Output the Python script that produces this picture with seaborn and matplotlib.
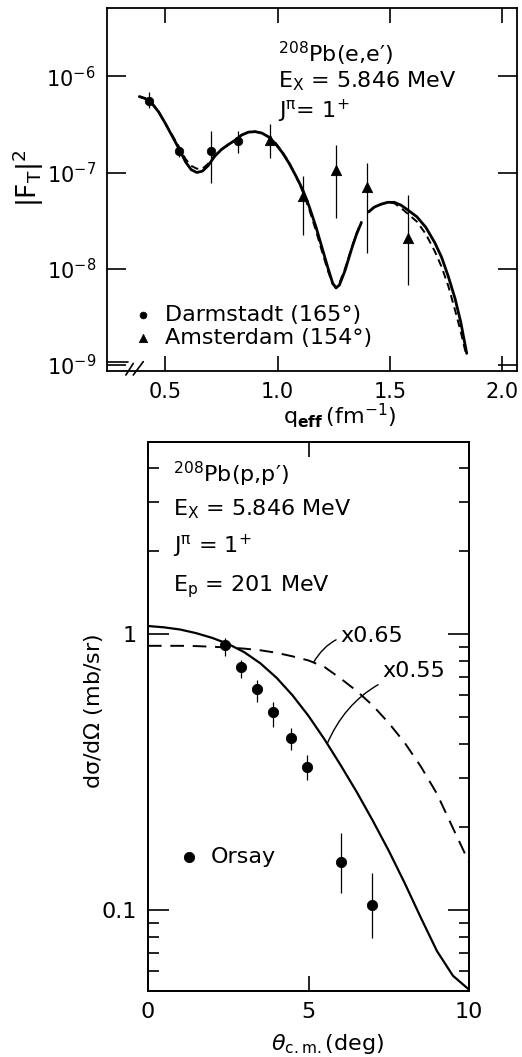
import numpy as np
import pandas as pd
import seaborn as sns
import matplotlib.pyplot as plt
from matplotlib.ticker import FixedLocator, NullFormatter, LogLocator, NullLocator, FormatStrFormatter

# ---- top panel: 208Pb(e,e') transverse form factor ----
darm_q = [0.429, 0.5625, 0.704, 0.823]
darm_f = [5.5e-7, 1.66e-7, 1.66e-7, 2.14e-7]
darm_lo = [4.7e-7, 1.45e-7, 7.8e-8, 1.58e-7]
darm_hi = [6.8e-7, 1.9e-7, 2.7e-7, 2.7e-7]

ams_q = [0.964, 1.113, 1.262, 1.396, 1.582]
ams_f = [2.2e-7, 5.7e-8, 1.07e-7, 7.1e-8, 2.1e-8]
ams_lo = [1.42e-7, 2.26e-8, 3.4e-8, 1.46e-8, 6.8e-9]
ams_hi = [3.16e-7, 9.1e-8, 1.95e-7, 1.26e-7, 5.9e-8]

# curves read as log10|F_T|^2 ; broken into two pieces near q=1.39
sol_q = [0.384, 0.41, 0.44, 0.47, 0.50, 0.53, 0.56, 0.59, 0.615, 0.64, 0.665, 0.69, 0.72, 0.75,
         0.78, 0.81, 0.84, 0.87, 0.90, 0.93, 0.96, 0.99, 1.02, 1.05, 1.08, 1.11, 1.14, 1.17,
         1.20, 1.225, 1.245, 1.26, 1.275, 1.30, 1.33, 1.35, 1.373,
         1.405, 1.43, 1.46, 1.49, 1.52, 1.55, 1.58, 1.62, 1.66, 1.70, 1.73, 1.76, 1.79, 1.815, 1.842]
sol_logf = [-6.21, -6.23, -6.28, -6.37, -6.49, -6.62, -6.75, -6.89, -6.97, -7.0, -6.985, -6.93, -6.83, -6.76,
            -6.71, -6.665, -6.61, -6.58, -6.575, -6.59, -6.63, -6.70, -6.79, -6.90, -7.03, -7.17, -7.35, -7.56,
            -7.80, -8.0, -8.15, -8.2, -8.17, -8.02, -7.79, -7.65, -7.52,
            -7.41, -7.36, -7.33, -7.31, -7.31, -7.34, -7.39, -7.46, -7.57, -7.73, -7.88, -8.08, -8.31, -8.55, -8.88]
sol_seg = [0] * 37 + [1] * 15

dsh_q = [0.384, 0.41, 0.44, 0.47, 0.50, 0.53, 0.56, 0.59, 0.615, 0.64, 0.665, 0.69, 0.72, 0.75,
         0.78, 0.81, 0.84, 0.87, 0.90, 0.93, 0.96, 0.99, 1.02, 1.05, 1.08, 1.11, 1.14, 1.17,
         1.20, 1.225, 1.245, 1.26, 1.275, 1.30, 1.33, 1.35, 1.373,
         1.405, 1.43, 1.46, 1.49, 1.52, 1.55, 1.58, 1.62, 1.66, 1.70, 1.73, 1.76, 1.79, 1.815, 1.84]
dsh_logf = [-6.21, -6.23, -6.28, -6.37, -6.49, -6.61, -6.73, -6.86, -6.93, -6.96, -6.96, -6.91, -6.82, -6.76,
            -6.71, -6.665, -6.61, -6.58, -6.575, -6.59, -6.63, -6.69, -6.78, -6.89, -7.03, -7.19, -7.38, -7.60,
            -7.84, -8.03, -8.16, -8.19, -8.15, -8.0, -7.78, -7.64, -7.51,
            -7.41, -7.36, -7.33, -7.31, -7.32, -7.37, -7.43, -7.51, -7.64, -7.82, -7.98, -8.18, -8.43, -8.65, -8.90]
dsh_seg = [0] * 37 + [1] * 15

# ---- bottom panel: 208Pb(p,p') cross section ----
ors_th = [2.4, 2.9, 3.4, 3.9, 4.47, 4.94, 6.0, 6.97]
ors_xs = [0.91, 0.76, 0.63, 0.52, 0.42, 0.33, 0.149, 0.104]
ors_lo = [0.83, 0.693, 0.567, 0.46, 0.38, 0.296, 0.115, 0.079]
ors_hi = [0.97, 0.805, 0.68, 0.567, 0.457, 0.364, 0.19, 0.136]

th_sol = [0, 0.5, 1, 1.5, 2, 2.5, 3, 3.5, 4, 4.5, 5, 5.5, 6, 6.5, 7, 7.5, 8, 8.5, 9, 9.5, 10]
xs_sol = [1.069, 1.057, 1.038, 1.007, 0.968, 0.920, 0.859, 0.783, 0.695, 0.600, 0.505, 0.415, 0.335,
          0.268, 0.211, 0.164, 0.125, 0.0938, 0.0711, 0.0578, 0.0515]
th_dsh = [0, 0.5, 1, 1.5, 2, 2.5, 3, 3.5, 4, 4.5, 5, 5.5, 6, 6.5, 7, 7.5, 8, 8.5, 9, 9.5, 10]
xs_dsh = [0.906, 0.906, 0.906, 0.904, 0.899, 0.893, 0.885, 0.873, 0.855, 0.830, 0.802, 0.759, 0.690,
          0.622, 0.551, 0.476, 0.403, 0.331, 0.264, 0.198, 0.149]

sns.set_style('ticks')
plt.rcParams['font.family'] = ['DejaVu Sans']
plt.rcParams['mathtext.fontset'] = 'dejavusans'
plt.rcParams['mathtext.default'] = 'regular'
for key in ['text.color', 'axes.labelcolor', 'xtick.color', 'ytick.color', 'axes.edgecolor']:
    plt.rcParams[key] = 'black'

fig = plt.figure(figsize=(5.22, 10.57), dpi=100)
ax1 = fig.add_axes([107 / 522, 1 - 370.7 / 1057, 410 / 522, 362.4 / 1057])
ax2 = fig.add_axes([148 / 522, 1 - 991 / 1057, 321 / 522, 549 / 1057])

# ---------------- top ----------------
sol = pd.DataFrame({'q': sol_q, 'F': 10.0 ** np.array(sol_logf), 'seg': sol_seg})
dsh = pd.DataFrame({'q': dsh_q, 'F': 10.0 ** np.array(dsh_logf), 'seg': dsh_seg})
sns.lineplot(data=sol, x='q', y='F', units='seg', estimator=None, sort=False,
             color='k', lw=2.0, ax=ax1)
sns.lineplot(data=dsh, x='q', y='F', units='seg', estimator=None, sort=False,
             color='k', lw=1.4, linestyle=(0, (4, 2.5)), ax=ax1)
ax1.vlines(darm_q, darm_lo, darm_hi, color='k', lw=0.9)
ax1.vlines(ams_q, ams_lo, ams_hi, color='k', lw=0.9)
sns.scatterplot(x=darm_q, y=darm_f, marker='o', s=38, color='k', edgecolor='k',
                label='Darmstadt (165°)', ax=ax1, zorder=3)
sns.scatterplot(x=ams_q, y=ams_f, marker='^', s=55, color='k', edgecolor='k',
                label='Amsterdam (154°)', ax=ax1, zorder=3)

ax1.set_yscale('log')
ax1.set_xlim(0.24, 2.066)
ax1.set_ylim(8.7e-10, 5.1e-6)
ax1.set_xticks([0.5, 1.0, 1.5, 2.0])
ax1.xaxis.set_major_formatter(FormatStrFormatter('%.1f'))
ax1.yaxis.set_major_locator(LogLocator(base=10, numticks=10))
ax1.yaxis.set_minor_locator(NullLocator())
ax1.tick_params(axis='both', direction='in', top=True, right=True, labelsize=15,
                width=1.2, pad=8)
ax1.tick_params(axis='y', length=14)
ax1.tick_params(axis='x', length=11)
for sp in ax1.spines.values():
    sp.set_linewidth(1.3)

ax1.set_xlabel(r'$q_{\mathbf{eff}}\,(fm^{-1})$', fontsize=16)
ax1.set_ylabel(r'$|F_T|^2$', fontsize=19)
ax1.xaxis.set_label_coords(0.568, -0.085)
ax1.yaxis.set_label_coords(-0.148, 0.53)

ax1.text(0.417, 0.852, r'$^{208}$Pb(e,e′)', transform=ax1.transAxes, fontsize=16, va='baseline')
ax1.text(0.417, 0.783, r'E$_X$ = 5.846 MeV', transform=ax1.transAxes, fontsize=16, va='baseline')
ax1.text(0.417, 0.697, r'J$^{\pi}$= 1$^{+}$', transform=ax1.transAxes, fontsize=16, va='baseline')

ax1.legend(loc='lower left', bbox_to_anchor=(0.066, 0.062), frameon=False, fontsize=16,
           handlelength=0.8, handletextpad=0.6, borderpad=0, borderaxespad=0,
           labelspacing=0.15, markerscale=0.8)

# broken-axis mark at lower left
kw = dict(transform=ax1.transAxes, color='k', lw=1.2, clip_on=False)
ax1.plot([0, 0.05], [0.023, 0.023], **kw)
ax1.plot([0.046, 0.064], [-0.012, 0.020], **kw)
ax1.plot([0.064, 0.0885], [-0.012, 0.025], **kw)

# ---------------- bottom ----------------
sns.lineplot(x=th_sol, y=xs_sol, color='k', lw=1.6, ax=ax2)
sns.lineplot(x=th_dsh, y=xs_dsh, color='k', lw=1.4, linestyle=(0, (7, 4.5)), ax=ax2)
ax2.vlines(ors_th, ors_lo, ors_hi, color='k', lw=0.9)
sns.scatterplot(x=ors_th, y=ors_xs, marker='o', s=55, color='k', edgecolor='k',
                label='Orsay', ax=ax2, zorder=3)

ax2.set_yscale('log')
ax2.set_xlim(0, 10)
ax2.set_ylim(0.0509, 4.96)
ax2.set_xticks([0, 5, 10], ['0', '5', '10'])
ax2.set_yticks([0.1, 1], ['0.1', '1'])
ax2.yaxis.set_minor_locator(FixedLocator([0.06, 0.07, 0.08, 0.09, 2, 3, 4]))
ax2.yaxis.set_minor_formatter(NullFormatter())
ax2.tick_params(axis='both', which='both', direction='in', top=True, right=False,
                labelsize=16, width=1.2, pad=8)
ax2.tick_params(axis='y', which='major', length=15)
ax2.tick_params(axis='y', which='minor', length=8)
ax2.tick_params(axis='x', length=11)
for sp in ax2.spines.values():
    sp.set_linewidth(1.3)

axr = ax2.twinx()
axr.set_yscale('log')
axr.set_ylim(ax2.get_ylim())
axr.set_yticks([0.1, 1])
axr.yaxis.set_minor_locator(LogLocator(base=10, subs=np.arange(2, 10), numticks=10))
axr.yaxis.set_minor_formatter(NullFormatter())
axr.tick_params(axis='y', which='both', direction='in', labelright=False, width=1.2)
axr.tick_params(axis='y', which='major', length=15)
axr.tick_params(axis='y', which='minor', length=7)
for sp in axr.spines.values():
    sp.set_linewidth(1.3)

ax2.set_xlabel(r'$\mathit{\theta}_{c.m.}$(deg)', fontsize=16)
ax2.set_ylabel(r'd$\sigma$/d$\Omega$ (mb/sr)', fontsize=16)
ax2.xaxis.set_label_coords(0.56, -0.075)
ax2.yaxis.set_label_coords(-0.135, 0.51)

ax2.text(0.078, 0.927, r'$^{208}$Pb(p,p′)', transform=ax2.transAxes, fontsize=16, va='baseline')
ax2.text(0.078, 0.867, r'E$_X$ = 5.846 MeV', transform=ax2.transAxes, fontsize=16, va='baseline')
ax2.text(0.078, 0.798, r'J$^{\pi}$ = 1$^{+}$', transform=ax2.transAxes, fontsize=16, va='baseline')
ax2.text(0.078, 0.727, r'E$_p$ = 201 MeV', transform=ax2.transAxes, fontsize=16, va='baseline')

ax2.annotate('x0.65', xy=(5.16, 0.79), xytext=(6.0, 0.985), fontsize=16, va='center', ha='left',
             arrowprops=dict(arrowstyle='-', connectionstyle='arc3,rad=0.35', lw=1.0,
                             shrinkA=1, shrinkB=0, color='k'))
ax2.annotate('x0.55', xy=(5.58, 0.40), xytext=(7.3, 0.736), fontsize=16, va='center', ha='left',
             arrowprops=dict(arrowstyle='-', connectionstyle='arc3,rad=0.25', lw=1.0,
                             shrinkA=1, shrinkB=0, color='k'))

ax2.legend(loc='center left', bbox_to_anchor=(0.1, 0.244), frameon=False, fontsize=16,
           handlelength=0.8, handletextpad=0.6, borderpad=0, borderaxespad=0)

fig.savefig('out.png', dpi=100)
